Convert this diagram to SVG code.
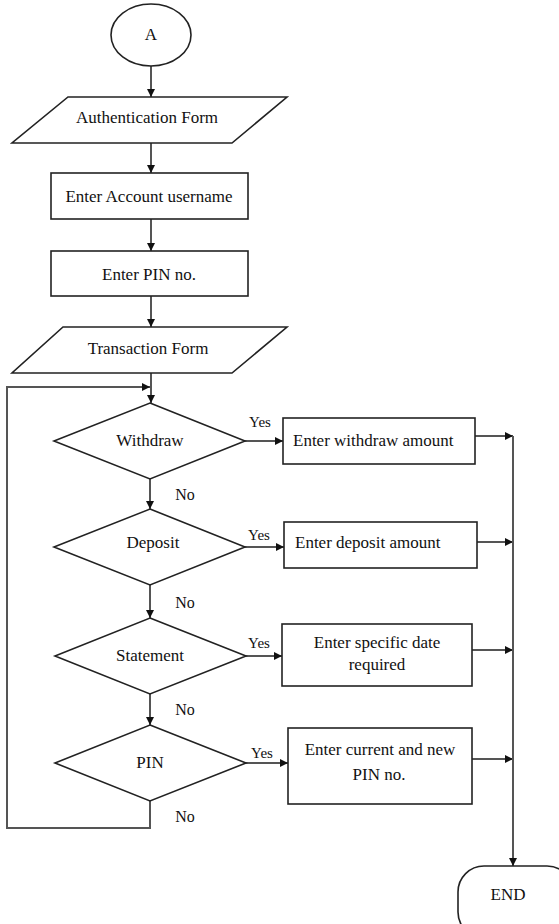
<svg xmlns="http://www.w3.org/2000/svg" width="559" height="924" viewBox="0 0 559 924">
<defs>
<marker id="ah" viewBox="0 0 10 10" refX="10" refY="5" markerWidth="8" markerHeight="8" markerUnits="userSpaceOnUse" orient="auto">
<path d="M0,0 L10,5 L0,10 z" fill="#111"/>
</marker>
<style>
.s{fill:#fff;stroke:#222;stroke-width:1.6}
.c{fill:none;stroke:#555;stroke-width:2}
.a{marker-end:url(#ah)}
text{font-family:"Liberation Serif","Times New Roman",serif;fill:#111}
.t{font-size:17px;text-anchor:middle}
.l{font-size:17px}
.y{font-size:15px;text-anchor:middle}
.n{font-size:16px;text-anchor:middle}
</style>
</defs>
<rect width="559" height="924" fill="#fff"/>
<g id="connectors">
<line class="c a" x1="151" y1="66" x2="151" y2="97"/>
<line class="c a" x1="151" y1="143" x2="151" y2="173"/>
<line class="c a" x1="151" y1="219" x2="151" y2="251"/>
<line class="c a" x1="151" y1="296" x2="151" y2="327"/>
<line class="c a" x1="151" y1="373" x2="151" y2="403"/>
<polyline class="c a" points="150,801 150,828 7,828 7,387 150,387"/>
<line class="c a" x1="150" y1="479" x2="150" y2="509"/>
<line class="c a" x1="150" y1="585" x2="150" y2="618"/>
<line class="c a" x1="150" y1="694" x2="150" y2="725"/>
<line class="c a" x1="245" y1="441" x2="283" y2="441"/>
<line class="c a" x1="245" y1="547" x2="284" y2="547"/>
<line class="c a" x1="246" y1="656" x2="282" y2="656"/>
<line class="c a" x1="246" y1="763" x2="288" y2="763"/>
<line class="c a" x1="475" y1="436" x2="513" y2="436"/>
<line class="c a" x1="477" y1="542" x2="513" y2="542"/>
<line class="c a" x1="472" y1="650" x2="513" y2="650"/>
<line class="c a" x1="472" y1="759" x2="513" y2="759"/>
<line class="c a" x1="513" y1="436" x2="513" y2="866"/>
<text class="y" x="260" y="427">Yes</text>
<text class="y" x="259" y="540">Yes</text>
<text class="y" x="259" y="648">Yes</text>
<text class="y" x="262" y="758">Yes</text>
<text class="n" x="185" y="500">No</text>
<text class="n" x="185" y="608">No</text>
<text class="n" x="185" y="715">No</text>
<text class="n" x="185" y="822">No</text>
</g>
<g id="start">
<ellipse class="s" cx="151" cy="35" rx="40" ry="31"/>
<text class="t" x="151" y="40">A</text>
</g>
<g id="auth-form">
<polygon class="s" points="68,97 287,97 232,143 12,143"/>
<text class="t" x="147" y="123">Authentication Form</text>
</g>
<g id="enter-username">
<rect class="s" x="51" y="173" width="197" height="46"/>
<text class="t" x="149" y="202">Enter Account username</text>
</g>
<g id="enter-pin">
<rect class="s" x="51" y="251" width="197" height="45"/>
<text class="t" x="149" y="280">Enter PIN no.</text>
</g>
<g id="transaction-form">
<polygon class="s" points="63,327 287,327 232,373 12,373"/>
<text class="t" x="148" y="354">Transaction Form</text>
</g>
<g id="withdraw">
<polygon class="s" points="150,403 245,441 150,479 54,441"/>
<text class="t" x="150" y="446">Withdraw</text>
</g>
<g id="deposit">
<polygon class="s" points="150,509 245,547 150,585 54,547"/>
<text class="t" x="153" y="548">Deposit</text>
</g>
<g id="statement">
<polygon class="s" points="150,618 246,656 150,694 55,656"/>
<text class="t" x="150" y="661">Statement</text>
</g>
<g id="pin">
<polygon class="s" points="150,725 246,763 150,801 55,763"/>
<text class="t" x="150" y="768">PIN</text>
</g>
<g id="withdraw-amount">
<rect class="s" x="283" y="418" width="192" height="46"/>
<text class="l" x="293" y="446">Enter withdraw amount</text>
</g>
<g id="deposit-amount">
<rect class="s" x="284" y="522" width="193" height="46"/>
<text class="l" x="295" y="548">Enter deposit amount</text>
</g>
<g id="specific-date">
<rect class="s" x="282" y="624" width="190" height="62"/>
<text class="t" x="377" y="648">Enter specific date</text>
<text class="t" x="377" y="670">required</text>
</g>
<g id="new-pin">
<rect class="s" x="288" y="728" width="184" height="76"/>
<text class="t" x="380" y="755">Enter current and new</text>
<text class="t" x="379" y="780">PIN no.</text>
</g>
<g id="end">
<rect class="s" x="458" y="866" width="115" height="72" rx="26"/>
<text class="t" x="508" y="900">END</text>
</g>
</svg>
